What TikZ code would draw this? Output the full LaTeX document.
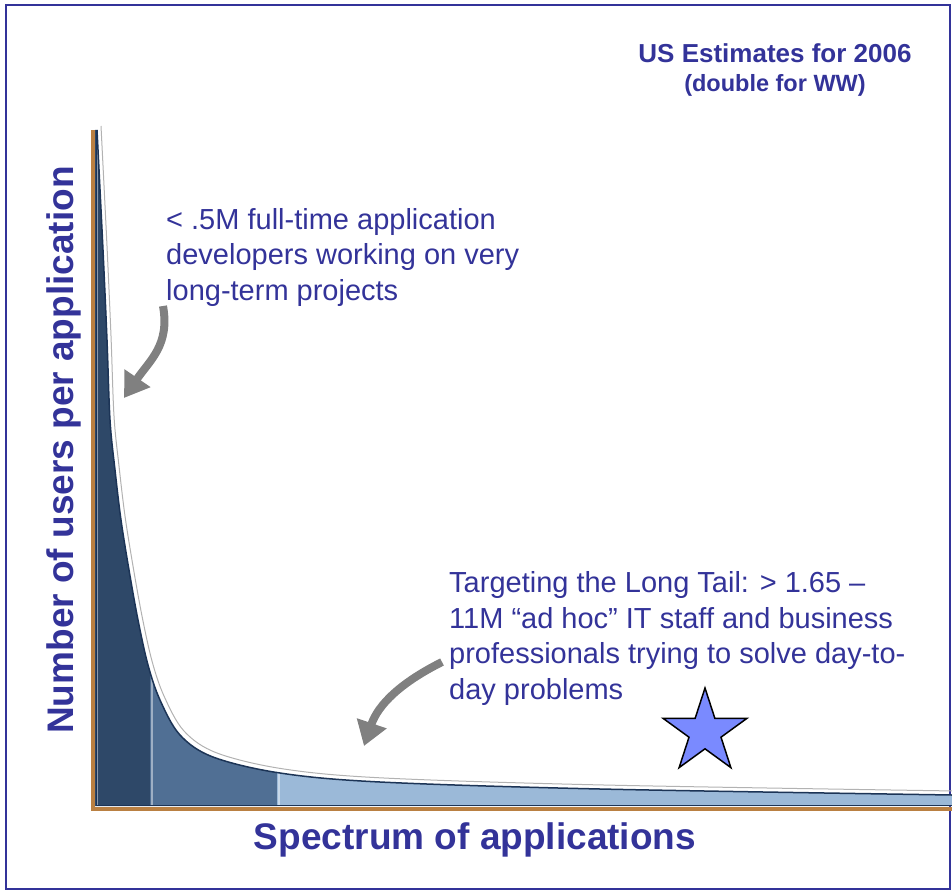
\documentclass[tikz,border=0pt]{standalone}
\usepackage{fontspec}
\setmainfont{Liberation Sans}
\usetikzlibrary{arrows.meta,shapes.geometric}

\definecolor{titleblue}{RGB}{51,51,153}
\definecolor{axisorange}{RGB}{186,128,66}
\definecolor{tailA}{RGB}{46,72,104}
\definecolor{tailB}{RGB}{80,111,148}
\definecolor{tailC}{RGB}{155,185,216}
\definecolor{edgenavy}{RGB}{28,52,86}
\definecolor{pointergray}{RGB}{128,128,128}
\definecolor{starblue}{RGB}{122,138,255}

\tikzset{
    note/.style={text=titleblue, align=left, anchor=base west, inner sep=0pt,
        font=\fontsize{29}{35.5}\selectfont},
    heading/.style={text=titleblue, anchor=base, inner sep=0pt,
        font=\bfseries\fontsize{37}{44}\selectfont},
    pointer/.style={draw=pointergray, line width=8pt,
        -{Triangle[length=24pt,width=30pt]}},
}

\begin{document}
\begin{tikzpicture}[x=1pt, y=-1pt]
    \useasboundingbox (0,0) rectangle (952,893);

    % frame
    \draw[titleblue, line width=1.5pt] (6,5) rectangle (950,889);

    % long tail
    \path[save path=\tailarea]
        (95,806) -- (95,130) --
        plot[smooth, tension=0.55] coordinates {
        (97,130) (103,250) (107,340) (110,420) (115,470) (121,520)
        (129,570) (138,620) (148,665) (160,700) (180,735) (213,757)
        (280,773) (380,782) (600,789) (952,795)}
        -- (952,806) -- cycle;
    \path[save path=\tailedge]
        plot[smooth, tension=0.55] coordinates {
        (97,130) (103,250) (107,340) (110,420) (115,470) (121,520)
        (129,570) (138,620) (148,665) (160,700) (180,735) (213,757)
        (280,773) (380,782) (600,789) (952,795)};

    \foreach \xa/\xb/\segcol in {95/150/tailA, 150/277/tailB, 277/952/tailC} {
        \begin{scope}
            \clip (\xa,100) rectangle (\xb,806);
            \fill[\segcol, use path=\tailarea];
        \end{scope}
    }
    \begin{scope}
        \clip[use path=\tailarea];
        \foreach \xa in {97,152,279}
            \draw[white, opacity=0.45, line width=2pt]
                (\xa,100) --
                (\xa,806);
    \end{scope}

    \draw[edgenavy, line width=1.5pt, use path=\tailedge];
    \draw[black!30, line width=1pt, transform canvas={shift={(4pt,4pt)}},
        use path=\tailedge];

    % axis
    \draw[axisorange, line width=4.5pt]
        (93,130) --
        (93,809) --
        (952,809);
    \draw[edgenavy, line width=1pt]
        (96,130) --
        (96,805) --
        (952,805);

    % titles
    \node[heading, font=\bfseries\fontsize{26}{30}\selectfont] (estimate)
        at (775,63) {US Estimates for 2006};
    \node[heading, font=\bfseries\fontsize{23.5}{28}\selectfont] (worldwide)
        at (775,92) {(double for WW)};
    \node[heading] (xlabel) at (475,849) {Spectrum of applications};
    \node[heading, rotate=90] (ylabel) at (73,450) {Number of users per application};

    % notes (base = last line)
    \node[note] (devnote) at (166,300)
        {< .5M full-time application\\developers working on very\\long-term projects};
    \node[note] (tailnote) at (449,699)
        {Targeting the Long Tail: > 1.65 –\\11M “ad hoc” IT staff and business\\professionals trying to solve day-to-\\day problems};

    % pointers
    \coordinate (devstart) at (163,306);
    \coordinate (devtip) at (124,398);
    \draw[pointer]
        (devstart) .. controls (170,345) and (150,360) ..
        (devtip);

    \coordinate (tailstart) at (442,662);
    \coordinate (tailtip) at (364,746);
    \draw[pointer]
        (tailstart) .. controls (400,683) and (378,705) ..
        (tailtip);

    % star
    \node[star, star points=5, star point ratio=2.618, minimum size=88pt,
        inner sep=0pt, draw=black, line width=1.5pt, fill=starblue]
        (bigstar) at (705,732) {};

\end{tikzpicture}
\end{document}
